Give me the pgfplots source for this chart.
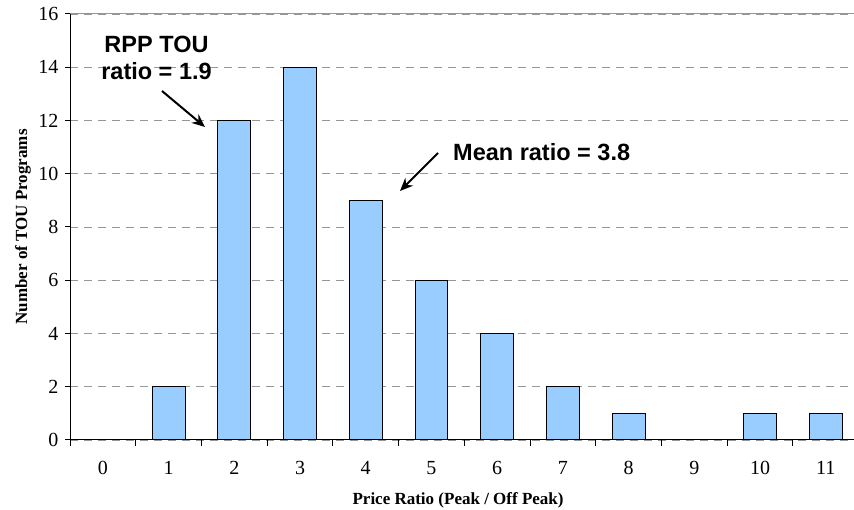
\documentclass[border=0pt]{standalone}
\usepackage{pgfplots}
\pgfplotsset{compat=1.18}
\usetikzlibrary{arrows.meta}
\usepackage{fontspec}
\setmainfont{Liberation Serif}
\newfontfamily\arial{Liberation Sans}
\definecolor{barblue}{RGB}{153,204,255}
\definecolor{gridgray}{RGB}{150,150,150}
\begin{document}
\begin{tikzpicture}[x=1pt,y=1pt]
\useasboundingbox (0,0) rectangle (854,510);
\begin{axis}[
  at={(70pt,70pt)}, anchor=south west,
  scale only axis, width=784pt, height=426pt,
  xmin=-0.5, xmax=11.43, ymin=0, ymax=16,
  axis x line*=bottom, axis y line*=left,
  axis line style={-,black,line width=1pt},
  xtick={0,...,11},
  minor xtick={-0.5,0.5,...,10.5},
  major x tick style={draw=none},
  minor x tick style={black,line width=1pt},
  minor tick length=6pt,
  ytick={0,2,...,16},
  major tick length=5pt,
  tick align=outside,
  y tick style={black,line width=1pt},
  ymajorgrids,
  major grid style={gridgray,line width=0.8pt,dash pattern=on 8pt off 6pt},
  /pgf/number format/assume math mode=true,
  tick label style={font=\fontsize{20}{23}\selectfont},
  xticklabel style={yshift=-13pt},
  yticklabel style={xshift=-3pt},
  xlabel={\bfseries Price Ratio (Peak / Off Peak)},
  ylabel={\bfseries Number of TOU Programs},
  label style={font=\fontsize{17}{20}\selectfont},
  xlabel style={at={(axis description cs:0.495,-0.151)}, anchor=base},
  ylabel style={at={(axis description cs:-0.0548,0.5)}, anchor=base},
  clip=false,
]
\draw[gridgray,line width=1pt] (rel axis cs:0,1) -- (rel axis cs:1,1);
\addplot[ybar, bar width=0.5, bar shift=0pt, fill=barblue, draw=black, line width=1pt]
coordinates {(1,2) (2,12) (3,14) (4,9) (5,6) (6,4) (7,2) (8,1) (10,1) (11,1)};
\end{axis}
\begin{scope}[font=\arial\bfseries\fontsize{23.5}{26}\selectfont]
\node[anchor=base,inner sep=0] at (156.5,457) {RPP TOU};
\node[anchor=base,inner sep=0] at (156.5,430) {ratio = 1.9};
\node[anchor=base west,inner sep=0] at (453,349) {Mean ratio = 3.8};
\end{scope}
\draw[line width=2pt,-{Stealth[length=13pt,width=11pt]}] (162,419) -- (205,383);
\draw[line width=2pt,-{Stealth[length=13pt,width=11pt]}] (438,357) -- (400,319);
\end{tikzpicture}
\end{document}
